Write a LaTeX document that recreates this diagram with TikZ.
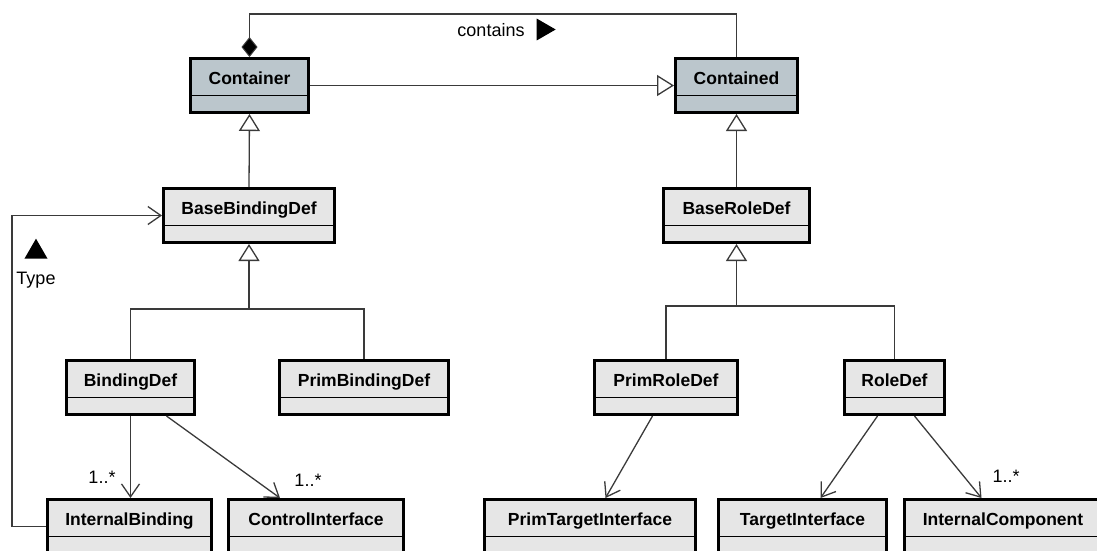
\documentclass[tikz,border=0pt]{standalone}
\usepackage{fontspec}
\setmainfont{Liberation Sans}
\usetikzlibrary{arrows.meta,shapes.geometric,calc}

\definecolor{clsfill}{HTML}{E6E6E6}
\definecolor{keyfill}{HTML}{BBC6CC}
\definecolor{wire}{HTML}{3A3A3A}

\tikzset{
  umlclass/.style={
    rectangle, draw=black, line width=3pt, fill=clsfill,
    anchor=north west, inner xsep=0pt, inner ysep=0pt,
    minimum width=#1, minimum height=54pt,
    text height=26pt, text depth=28pt,
    font=\fontsize{17.5}{20}\selectfont\bfseries,
    path picture={
      \draw[line width=1.4pt, black]
        ([yshift=-37pt]path picture bounding box.north west) --
        ([yshift=-37pt]path picture bounding box.north east);
    }
  },
  keyclass/.style={fill=keyfill},
  link/.style={draw=wire, line width=1.3pt},
  inherit/.style={link, -{Triangle[open, length=17pt, width=21pt, line width=1.3pt, fill=white]}},
  inherittip/.style={link, {Triangle[open, length=17pt, width=21pt, line width=1.3pt, fill=white]}-},
  assoc/.style={link, -{Straight Barb[length=13pt, width=18pt, line width=1.3pt]}},
  compose/.style={link, -{Diamond[length=20pt, width=16pt, fill=black, line width=1pt]}},
  mult/.style={font=\fontsize{18}{20}\selectfont, text=black},
  marklbl/.style={font=\fontsize{18}{20}\selectfont, text=black},
  dirtri/.style={isosceles triangle, fill=black, draw=none, inner sep=0pt,
    isosceles triangle apex angle=60, minimum height=19pt}
}

\begin{document}
\begin{tikzpicture}[x=1pt, y=-1pt]
  \useasboundingbox (0,0) rectangle (1097,550);
  \clip (0,0) rectangle (1097,550);

  % classes: top row
  \node[umlclass=118pt, keyclass] (Container) at (189,57) {Container};
  \node[umlclass=122pt, keyclass] (Contained) at (674,57) {Contained};

  % abstract definitions
  \node[umlclass=171pt] (BaseBindingDef) at (162,187) {BaseBindingDef};
  \node[umlclass=146pt] (BaseRoleDef) at (662,187) {BaseRoleDef};

  % concrete definitions
  \node[umlclass=128pt] (BindingDef) at (65,359) {BindingDef};
  \node[umlclass=169pt] (PrimBindingDef) at (278,359) {PrimBindingDef};
  \node[umlclass=143pt] (PrimRoleDef) at (593,359) {PrimRoleDef};
  \node[umlclass=100pt] (RoleDef) at (843,359) {RoleDef};

  % leaf classes
  \node[umlclass=164pt] (InternalBinding) at (46,498) {InternalBinding};
  \node[umlclass=175pt] (ControlInterface) at (227,498) {ControlInterface};
  \node[umlclass=211pt] (PrimTargetInterface) at (483,498) {PrimTargetInterface};
  \node[umlclass=168pt] (TargetInterface) at (717,498) {TargetInterface};
  \node[umlclass=197pt] (InternalComponent) at (903,498) {InternalComponent};

  % composition: Container contains Contained
  \coordinate (ctop) at (0,14);
  \draw[compose] (Contained.north) |- (ctop -| Container.north) -- (Container.north);
  \node[marklbl] (containslbl) at (491,30) {contains};
  \node[dirtri, shape border rotate=0] (containsdir) at (543,29.5) {};

  % generalisations
  \draw[inherit] (Container.east) -- (Contained.west);
  \draw[inherit] (BaseBindingDef.north) -- (Container.south);
  \draw[inherit] (BaseRoleDef.north) -- (Contained.south);

  \coordinate (lbranch) at (0,309);
  \draw[inherittip] (BaseBindingDef.south) -- (BaseBindingDef.south |- lbranch);
  \draw[link] (BindingDef.north) |- (lbranch -| BaseBindingDef.south) -| (PrimBindingDef.north);

  \coordinate (rbranch) at (0,306);
  \draw[inherittip] (BaseRoleDef.south) -- (BaseRoleDef.south |- rbranch);
  \draw[link] (PrimRoleDef.north) |- (rbranch -| BaseRoleDef.south) -| (RoleDef.north);

  % type association back to BaseBindingDef
  \coordinate (typecorner) at (12,0);
  \draw[assoc] (InternalBinding.west) -| (typecorner |- BaseBindingDef.west) -- (BaseBindingDef.west);
  \node[dirtri, shape border rotate=90, minimum height=20pt] (typedir) at (36,252) {};
  \node[marklbl] (typelbl) at (36,280) {Type};

  % associations
  \draw[assoc] (BindingDef.south) -- (BindingDef.south |- InternalBinding.north);
  \node[mult] (m1) at (102,477) {1..*};
  \draw[assoc] ([xshift=36pt]BindingDef.south) -- ([xshift=-36pt]ControlInterface.north);
  \node[mult] (m2) at (308,480) {1..*};

  \draw[assoc] ([xshift=-13.5pt]PrimRoleDef.south) -- ([xshift=15.5pt]PrimTargetInterface.north);
  \draw[assoc] ([xshift=-17pt]RoleDef.south) -- ([xshift=18pt]TargetInterface.north);
  \draw[assoc] ([xshift=20pt]RoleDef.south) -- ([xshift=-21.5pt]InternalComponent.north);
  \node[mult] (m3) at (1006,476) {1..*};
\end{tikzpicture}
\end{document}
